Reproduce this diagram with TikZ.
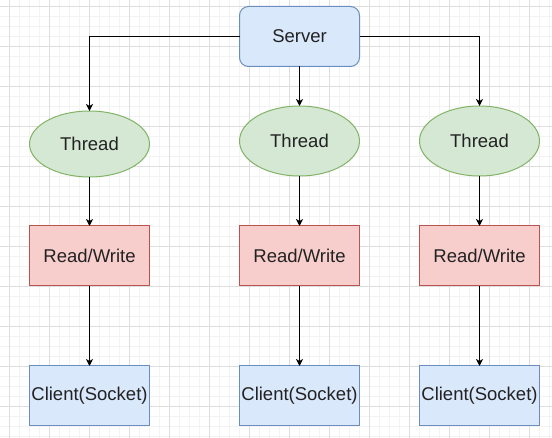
\documentclass[tikz,border=0pt]{standalone}
\usepackage{fontspec}
\setmainfont{Liberation Sans}
\usetikzlibrary{arrows.meta,shapes.geometric}
\definecolor{bluefill}{HTML}{DAE8FC}
\definecolor{bluestroke}{HTML}{6C8EBF}
\definecolor{greenfill}{HTML}{D5E8D4}
\definecolor{greenstroke}{HTML}{82B366}
\definecolor{redfill}{HTML}{F8CECC}
\definecolor{redstroke}{HTML}{B85450}
\definecolor{gridmajor}{HTML}{DEDEDE}
\definecolor{gridminor}{HTML}{F3F3F3}
\definecolor{txt}{HTML}{222222}
\tikzset{
  base/.style={minimum width=120pt, inner sep=0pt, outer sep=0pt, line width=1pt, text=txt,
    font=\fontsize{18.5}{22}\selectfont},
  serverbox/.style={base, rectangle, rounded corners=9pt, minimum height=60pt, fill=bluefill, draw=bluestroke},
  threadnode/.style={base, ellipse, fill=greenfill, draw=greenstroke},
  rwbox/.style={base, rectangle, minimum height=60pt, fill=redfill, draw=redstroke},
  clientbox/.style={base, rectangle, minimum height=60pt, fill=bluefill, draw=bluestroke},
  conn/.style={draw=black, line width=1pt, -{Stealth[length=7pt,width=7pt,inset=2pt]}},
}
\begin{document}
\begin{tikzpicture}[x=1pt,y=-1pt]
\useasboundingbox (0,0) rectangle (552,438);
\fill[white] (0,0) rectangle (552,438);
% minor grid
\foreach \x in {9.5,19.5,...,549.5} \draw[gridminor, line width=0.8pt] (\x,0) -- (\x,438);
\foreach \y in {6.5,16.5,...,436.5} \draw[gridminor, line width=0.8pt] (0,\y) -- (552,\y);
% major grid
\foreach \x in {9.5,49.5,...,549.5} \draw[gridmajor, line width=0.8pt] (\x,0) -- (\x,438);
\foreach \y in {6.5,46.5,...,436.5} \draw[gridmajor, line width=0.8pt] (0,\y) -- (552,\y);

\node[serverbox] (server) at (299.5,36.5) {Server};

\node[threadnode, minimum height=66pt] (t1) at (89.5,144) {Thread};
\node[threadnode, minimum height=70pt] (t2) at (299.5,141) {Thread};
\node[threadnode, minimum height=70pt] (t3) at (479.5,141) {Thread};

\node[rwbox] (rw1) at (89.5,256) {Read/Write};
\node[rwbox] (rw2) at (299.5,256) {Read/Write};
\node[rwbox] (rw3) at (479.5,256) {Read/Write};

\node[clientbox] (c1) at (89.5,396) {Client(Socket)};
\node[clientbox] (c2) at (299.5,396) {Client(Socket)};
\node[clientbox] (c3) at (479.5,396) {Client(Socket)};

\draw[conn] (server.west) -| (t1.north);
\draw[conn] (server.south) -- (t2.north);
\draw[conn] (server.east) -| (t3.north);

\draw[conn] (t1.south) -- (rw1.north);
\draw[conn] (t2.south) -- (rw2.north);
\draw[conn] (t3.south) -- (rw3.north);

\draw[conn] (rw1.south) -- (c1.north);
\draw[conn] (rw2.south) -- (c2.north);
\draw[conn] (rw3.south) -- (c3.north);
\end{tikzpicture}
\end{document}
